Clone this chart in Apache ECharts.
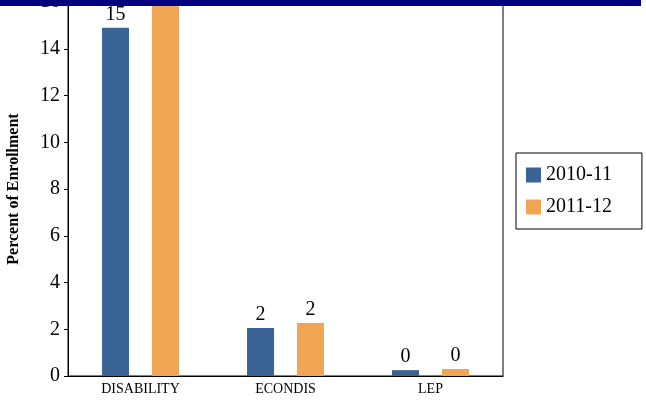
<!DOCTYPE html>
<html><head><meta charset="utf-8">
<script src="https://cdn.jsdelivr.net/npm/echarts@6/dist/echarts.min.js"></script>
<style>html,body{margin:0;padding:0;background:#fff}#c{width:646px;height:402px}</style>
</head><body><div id="c"></div>
<script>
const categories = ["DISABILITY", "ECONDIS", "LEP"];
const s2010 = [14.9, 2.05, 0.25];
const s2011 = [16.4, 2.27, 0.3];
const yTicks = [0, 2, 4, 6, 8, 10, 12, 14, 16];
const chart = echarts.init(document.getElementById('c'));
const lbl = {show:true, position:'top', distance:3, fontFamily:'Liberation Serif', fontSize:20, color:'#000', formatter:p=>Math.round(p.value)};
chart.setOption({
  animation:false,
  textStyle:{fontFamily:'Liberation Serif'},
  grid:{left:68, right:143, top:2, bottom:26, outerBoundsMode:'none', containLabel:false, show:true, borderColor:'#000', borderWidth:1},
  legend:{left:516, top:153, orient:'vertical', itemWidth:15, itemHeight:15, itemGap:12, padding:[12,30,12,10], borderColor:'#000', borderWidth:1, icon:'rect', textStyle:{fontSize:20, fontFamily:'Liberation Serif', color:'#000'}},
  xAxis:{type:'category', data:categories, axisLine:{lineStyle:{color:'#000'}}, axisTick:{show:false}, axisLabel:{fontSize:14, color:'#000', margin:6}},
  yAxis:{type:'value', min:0, max:16, interval:2, name:'Percent of Enrollment', nameLocation:'middle', nameGap:46, nameTextStyle:{fontWeight:'bold', fontSize:16, color:'#000'}, axisLine:{show:true, lineStyle:{color:'#000'}}, axisTick:{show:true, length:4}, splitLine:{show:false}, axisLabel:{fontSize:20, color:'#000', formatter:v=>yTicks.includes(v)?String(v):''}},
  series:[
    {name:'2010-11', type:'bar', data:s2010, barWidth:27, barGap:'85%', itemStyle:{color:'#3A6495'}, label:lbl},
    {name:'2011-12', type:'bar', data:s2011, barWidth:27, itemStyle:{color:'#F0A553'}, label:lbl}
  ],
  graphic:[{type:'rect', z:100, shape:{x:0, y:0, width:641, height:6}, style:{fill:'#000080'}}]
});
</script></body></html>
